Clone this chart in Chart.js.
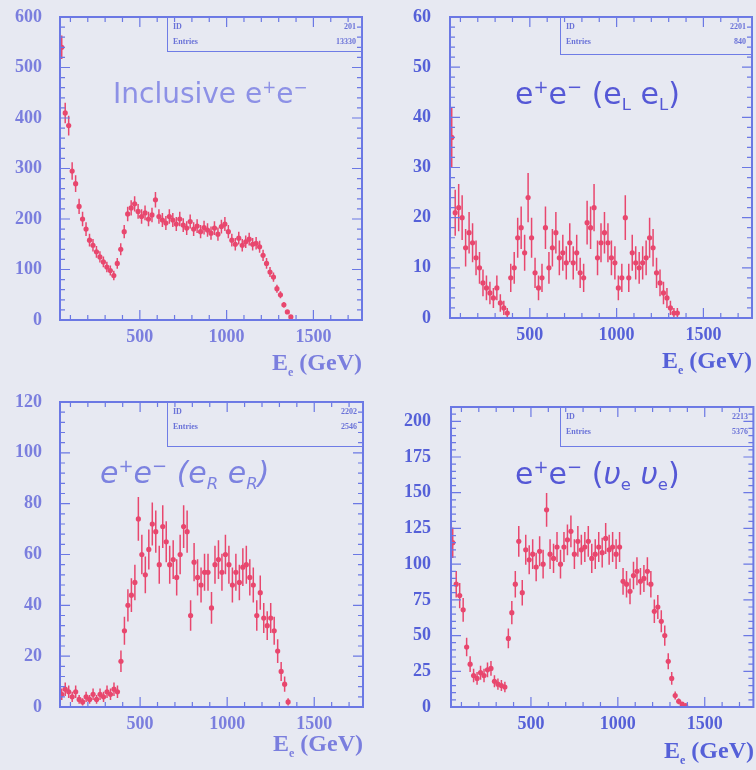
<!DOCTYPE html>
<html>
<head>
<meta charset="utf-8">
<script src="https://cdn.jsdelivr.net/npm/chart.js@4.4.1/dist/chart.umd.min.js"></script>
<style>
  html, body { margin: 0; padding: 0; background: #e7e9f2; }
  #page { position: relative; width: 756px; height: 770px; overflow: hidden; background: #e7e9f2; }
  canvas { position: absolute; }
  .title { position: absolute; white-space: nowrap; font-family: "DejaVu Sans", sans-serif; line-height: 1; }
  .title .up { font-size: 0.6em; position: relative; top: -0.6em; }
  .title .dn { font-size: 0.55em; position: relative; top: 0.35em; }
  .axis-title { position: absolute; white-space: nowrap; font-family: "Liberation Serif", serif; font-weight: bold; font-size: 24px; line-height: 1; text-align: right; }
  .axis-title sub { font-size: 0.5em; }
  .stats { position: absolute; border: 1.5px solid #6f7ce6; box-sizing: border-box; font-family: "Liberation Serif", serif; font-weight: bold; font-size: 8px; color: #6a72d8; padding-top: 4px; }
  .stats div { display: flex; justify-content: space-between; padding: 0 5px; height: 15px; }
</style>
</head>
<body>
<div id="page">
  <canvas id="c1" width="378" height="385" style="left:0;top:0"></canvas>
  <canvas id="c2" width="378" height="385" style="left:378px;top:0"></canvas>
  <canvas id="c3" width="378" height="385" style="left:0;top:385px"></canvas>
  <canvas id="c4" width="378" height="385" style="left:378px;top:385px"></canvas>

  <div class="stats" style="left:167px;top:17px;width:195px;height:35px"><div><span>ID</span><span>201</span></div><div><span>Entries</span><span>13330</span></div></div>
  <div class="stats" style="left:560px;top:17px;width:192px;height:38px"><div><span>ID</span><span>2201</span></div><div><span>Entries</span><span>840</span></div></div>
  <div class="stats" style="left:167px;top:402px;width:196px;height:45px"><div><span>ID</span><span>2202</span></div><div><span>Entries</span><span>2546</span></div></div>
  <div class="stats" style="left:560px;top:407px;width:194px;height:40px"><div><span>ID</span><span>2213</span></div><div><span>Entries</span><span>5376</span></div></div>

  <div class="title" style="left:113px;top:80px;font-size:28px;color:#8d91e6">Inclusive e<span class="up">+</span>e<span class="up">−</span></div>
  <div class="title" style="left:515px;top:79px;font-size:30px;color:#5558d6">e<span class="up">+</span>e<span class="up">−</span> (e<span class="dn">L</span> e<span class="dn">L</span>)</div>
  <div class="title" style="left:100px;top:458px;font-size:30px;color:#7c82e0;font-style:italic">e<span class="up">+</span>e<span class="up">−</span> (e<span class="dn">R</span> e<span class="dn">R</span>)</div>
  <div class="title" style="left:515px;top:459px;font-size:30px;color:#5558d6">e<span class="up">+</span>e<span class="up">−</span> (<i>υ</i><span class="dn">e</span> <i>υ</i><span class="dn">e</span>)</div>

  <div class="axis-title" style="right:394px;top:350px;color:#7a7ede">E<sub>e</sub> (GeV)</div>
  <div class="axis-title" style="right:4px;top:348px;color:#5560d8">E<sub>e</sub> (GeV)</div>
  <div class="axis-title" style="right:393px;top:731px;color:#7a7ede">E<sub>e</sub> (GeV)</div>
  <div class="axis-title" style="right:2px;top:738px;color:#5560d8">E<sub>e</sub> (GeV)</div>
</div>
<script>
// bin centres in GeV (20 GeV bins)
var binCenters = [50, 70, 90, 110, 130, 150, 170, 190, 210, 230,
    250, 270, 290, 310, 330, 350, 370, 390, 410, 430,
    450, 470, 490, 510, 530, 550, 570, 590, 610, 630,
    650, 670, 690, 710, 730, 750, 770, 790, 810, 830,
    850, 870, 890, 910, 930, 950, 970, 990, 1010, 1030,
    1050, 1070, 1090, 1110, 1130, 1150, 1170, 1190, 1210, 1230,
    1250, 1270, 1290, 1310, 1330, 1350, 1370, 1390];

var inclusiveCounts = [540, 410, 385, 295, 270, 225, 200, 180, 158, 148,
    135, 125, 115, 105, 98, 88, 112, 140, 175, 210,
    222, 230, 215, 205, 212, 200, 208, 238, 205, 198,
    192, 205, 198, 190, 200, 188, 182, 195, 180, 186,
    175, 183, 178, 172, 182, 170, 185, 190, 175, 158,
    150, 162, 148, 155, 160, 150, 152, 145, 128, 112,
    95, 85, 62, 50, 30, 16, 6, null];

var eLeLCounts = [36, 21, 22, 20, 14, 17, 15, 12, 10, 7,
    6, 5, 4, 6, 3, 2, 1, 8, 10, 16,
    18, 13, 24, 16, 9, 6, 8, 18, 10, 14,
    17, 12, 13, 11, 15, 11, 13, 9, 8, 19,
    18, 22, 12, 15, 17, 15, 12, 11, 6, 8,
    20, 8, 13, 11, 10, 11, 12, 16, 14, 9,
    7, 5, 4, 2, 1, 1, null, null];

var eReRCounts = [5, 7, 6, 4, 6, 3, 2, 4, 3, 5,
    3, 5, 4, 6, 5, 7, 6, 18, 30, 40,
    44, 49, 74, 60, 52, 62, 72, 69, 56, 71,
    65, 56, 58, 51, 60, 71, 69, 36, 57, 51,
    48, 53, 53, 39, 56, 58, 53, 60, 56, 48,
    53, 49, 55, 56, 51, 48, 36, 45, 35, 32,
    35, 30, 22, 14, 9, 2, null, null];

var nuNuCounts = [115, 86, 78, 68, 42, 30, 22, 20, 24, 22,
    26, 27, 18, 16, 15, 14, 48, 66, 86, 116,
    80, 110, 103, 107, 98, 109, 100, 138, 107, 104,
    112, 100, 112, 117, 123, 107, 116, 110, 112, 116,
    104, 107, 112, 108, 118, 110, 112, 107, 112, 88,
    86, 81, 92, 95, 88, 90, 95, 86, 67, 70,
    60, 50, 32, 20, 8, 4, 2, 1];

var xTickValues = [500, 1000, 1500];
var yTicksInclusive = [0, 100, 200, 300, 400, 500, 600];
var yTicksLL = [0, 10, 20, 30, 40, 50, 60];
var yTicksRR = [0, 20, 40, 60, 80, 100, 120];
var yTicksNuNu = [0, 25, 50, 75, 100, 125, 150, 175, 200];

var frameColor = '#6b78e4';
var markerColor = '#e8476e';

function toPoints(counts) {
    var pts = [];
    for (var i = 0; i < binCenters.length; i++) {
        if (counts[i] !== null) {
            pts.push({ x: binCenters[i], y: counts[i] });
        }
    }
    return pts;
}

// poisson error bars, drawn under the markers
var errorBarPlugin = {
    id: 'errorBars',
    beforeDatasetsDraw: function(chart) {
        var ctx = chart.ctx, a = chart.chartArea;
        var xs = chart.scales.x, ys = chart.scales.y;
        ctx.save();
        ctx.beginPath();
        ctx.rect(a.left, a.top, a.right - a.left, a.bottom - a.top);
        ctx.clip();
        ctx.strokeStyle = markerColor;
        ctx.lineWidth = 1.5;
        ctx.beginPath();
        chart.data.datasets[0].data.forEach(function(p) {
            var err = Math.sqrt(p.y);
            var px = xs.getPixelForValue(p.x);
            var py = ys.getPixelForValue(p.y);
            ctx.moveTo(px, ys.getPixelForValue(Math.max(p.y - err, 0)));
            ctx.lineTo(px, ys.getPixelForValue(p.y + err));
            ctx.moveTo(xs.getPixelForValue(p.x - 10), py);
            ctx.lineTo(xs.getPixelForValue(p.x + 10), py);
        });
        ctx.stroke();
        ctx.restore();
    }
};

// box around the plot with inward ticks on all four sides
var framePlugin = {
    id: 'frame',
    afterDraw: function(chart, args, opts) {
        var ctx = chart.ctx, a = chart.chartArea;
        var xs = chart.scales.x, ys = chart.scales.y;
        ctx.save();
        ctx.strokeStyle = frameColor;
        ctx.lineWidth = 1.2;
        ctx.beginPath();
        var v, p, len;
        for (v = 100; v < xs.max; v += 100) {
            if (v <= xs.min) continue;
            p = xs.getPixelForValue(v);
            len = v % 500 === 0 ? 10 : 5;
            ctx.moveTo(p, a.bottom); ctx.lineTo(p, a.bottom - len);
            ctx.moveTo(p, a.top); ctx.lineTo(p, a.top + len);
        }
        for (v = opts.minorStep; v < ys.max; v += opts.minorStep) {
            p = ys.getPixelForValue(v);
            len = Math.abs(v % opts.majorStep) < 1e-6 ? 10 : 5;
            ctx.moveTo(a.left, p); ctx.lineTo(a.left + len, p);
            ctx.moveTo(a.right, p); ctx.lineTo(a.right - len, p);
        }
        ctx.stroke();
        ctx.lineWidth = 2;
        ctx.strokeRect(a.left, a.top, a.right - a.left, a.bottom - a.top);
        ctx.restore();
    }
};

function makePanel(canvasId, counts, yMax, yTicks, minorStep, tickColor, box) {
    var ctx = document.getElementById(canvasId).getContext('2d');
    var tickFont = { family: '"Liberation Serif", serif', weight: 'bold', size: 18 };
    return new Chart(ctx, {
        type: 'scatter',
        data: {
            datasets: [{
                data: toPoints(counts),
                backgroundColor: markerColor,
                borderWidth: 0,
                pointRadius: 2.6,
                pointHoverRadius: 2.6
            }]
        },
        options: {
            responsive: false,
            animation: false,
            layout: { padding: { left: 0, top: box.top, right: box.right, bottom: 0 } },
            plugins: {
                legend: { display: false },
                tooltip: { enabled: false },
                frame: { minorStep: minorStep, majorStep: yTicks[1] - yTicks[0] }
            },
            scales: {
                x: {
                    type: 'linear',
                    min: 40,
                    max: 1780,
                    grid: { display: false, drawTicks: false },
                    border: { display: false },
                    afterBuildTicks: function(s) {
                        s.ticks = xTickValues.map(function(v) { return { value: v }; });
                    },
                    afterFit: function(s) {
                        s.height = box.xHeight;
                        s.paddingLeft = 0;
                        s.paddingRight = 0;
                    },
                    ticks: {
                        padding: 7,
                        color: tickColor,
                        font: tickFont,
                        callback: function(v) { return String(v); }
                    }
                },
                y: {
                    min: 0,
                    max: yMax,
                    grid: { display: false, drawTicks: false },
                    border: { display: false },
                    afterBuildTicks: function(s) {
                        s.ticks = yTicks.map(function(v) { return { value: v }; });
                    },
                    afterFit: function(s) {
                        // keep the frame where it is in the scan
                        s.width = box.yWidth;
                        s.paddingTop = 0;
                        s.paddingBottom = 0;
                    },
                    ticks: {
                        padding: box.labelGap,
                        color: tickColor,
                        font: tickFont,
                        callback: function(v) { return String(v); }
                    }
                }
            }
        },
        plugins: [errorBarPlugin, framePlugin]
    });
}

makePanel('c1', inclusiveCounts, 600, yTicksInclusive, 20, '#7a7ede',
    { top: 17, right: 16, xHeight: 65, yWidth: 60, labelGap: 18 });
makePanel('c2', eLeLCounts, 60, yTicksLL, 2, '#5560d8',
    { top: 17, right: 4, xHeight: 67, yWidth: 72, labelGap: 19 });
makePanel('c3', eReRCounts, 120, yTicksRR, 4, '#7a7ede',
    { top: 17, right: 15, xHeight: 63, yWidth: 60, labelGap: 18 });
makePanel('c4', nuNuCounts, 210, yTicksNuNu, 5, '#5560d8',
    { top: 22, right: 2, xHeight: 63, yWidth: 73, labelGap: 20 });
</script>
</body>
</html>
